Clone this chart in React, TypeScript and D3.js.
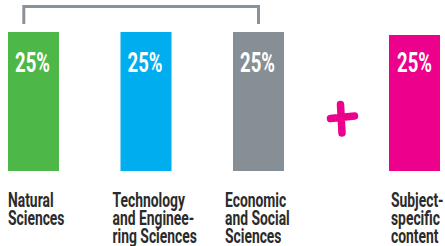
import React from "react";
import * as d3 from "d3";

// the three fields joined by the bracket, then the separate subject block
const fields = ["Natural Sciences", "Technology and Engineering Sciences", "Economic and Social Sciences"];
const fieldShares = [25, 25, 25];
const fieldColors = ["#4db848", "#00aeef", "#878f96"];
const fieldLabels = [
  ["Natural", "Sciences"],
  ["Technology", "and Enginee-", "ring Sciences"],
  ["Economic", "and Social", "Sciences"],
];

const subject = "Subject-specific content";
const subjectShare = 25;
const subjectColor = "#ec008c";
const subjectLabel = ["Subject-", "specific", "content"];

const W = 445;
const H = 246;
const SQUEEZE = 0.66; // fake a condensed face
const FONT = "Roboto, 'DejaVu Sans', sans-serif";
const INK = "#2b2b2b";

export default function App() {
  const x = d3.scaleBand<string>().domain(fields).range([8, 284]).paddingInner(0.3);
  // bar width ~51px
  const bw = 51;
  const y = d3.scaleLinear().domain([0, 25]).range([171, 32]);
  const ySubj = d3.scaleLinear().domain([0, 25]).range([171, 35]);
  const subjX = 389;

  const bx = (f: string) => {
    const i = fields.indexOf(f);
    return 8 + i * ((284 - bw - 8) / (fields.length - 1));
  };

  const label = (lines: string[], lx: number, key: string) =>
    lines.map((t, j) => (
      <g key={key + j} transform={`translate(${lx},${207 + j * 18}) scale(${SQUEEZE},1)`}>
        <text fontFamily={FONT} fontWeight={700} fontSize={21} fill={INK}>
          {t}
        </text>
      </g>
    ));

  const pct = (v: number, cx: number, key: string) => (
    <g key={key} transform={`translate(${cx},72) scale(${SQUEEZE},1)`}>
      <text textAnchor="middle" fontFamily={FONT} fontWeight={700} fontSize={28} fill="#fff">
        {`${v}%`}
      </text>
    </g>
  );

  const left = bx(fields[0]) + 15.8;
  const right = bx(fields[2]) + bw / 2;

  return (
    <svg
      width={W}
      height={H}
      style={{ position: "absolute", left: 0, top: 0, display: "block" }}
    >
      <rect width={W} height={H} fill="#fff" />
      <path
        d={`M${left},24 V6.5 H${right} V24`}
        fill="none"
        stroke="#8a9299"
        strokeWidth={3}
      />
      {fields.map((f, i) => {
        const x0 = bx(f);
        return (
          <g key={f}>
            <rect x={x0} y={y(fieldShares[i])} width={bw} height={y(0) - y(fieldShares[i])} fill={fieldColors[i]} />
            {pct(fieldShares[i], x0 + bw / 2 - 1, f + "p")}
            {label(fieldLabels[i], i === 0 ? x0 : x0 - 8, f)}
          </g>
        );
      })}
      <path
        d="M340.5,104.5 L342,133 M330.5,118.5 L354.5,116"
        stroke={subjectColor}
        strokeWidth={7.5}
        strokeLinecap="round"
        fill="none"
      />
      <g key={subject}>
        <rect x={subjX} y={ySubj(subjectShare)} width={bw} height={ySubj(0) - ySubj(subjectShare)} fill={subjectColor} />
        {pct(subjectShare, subjX + bw / 2, "sp")}
        {label(subjectLabel, subjX + 2, "s")}
      </g>
    </svg>
  );
}
